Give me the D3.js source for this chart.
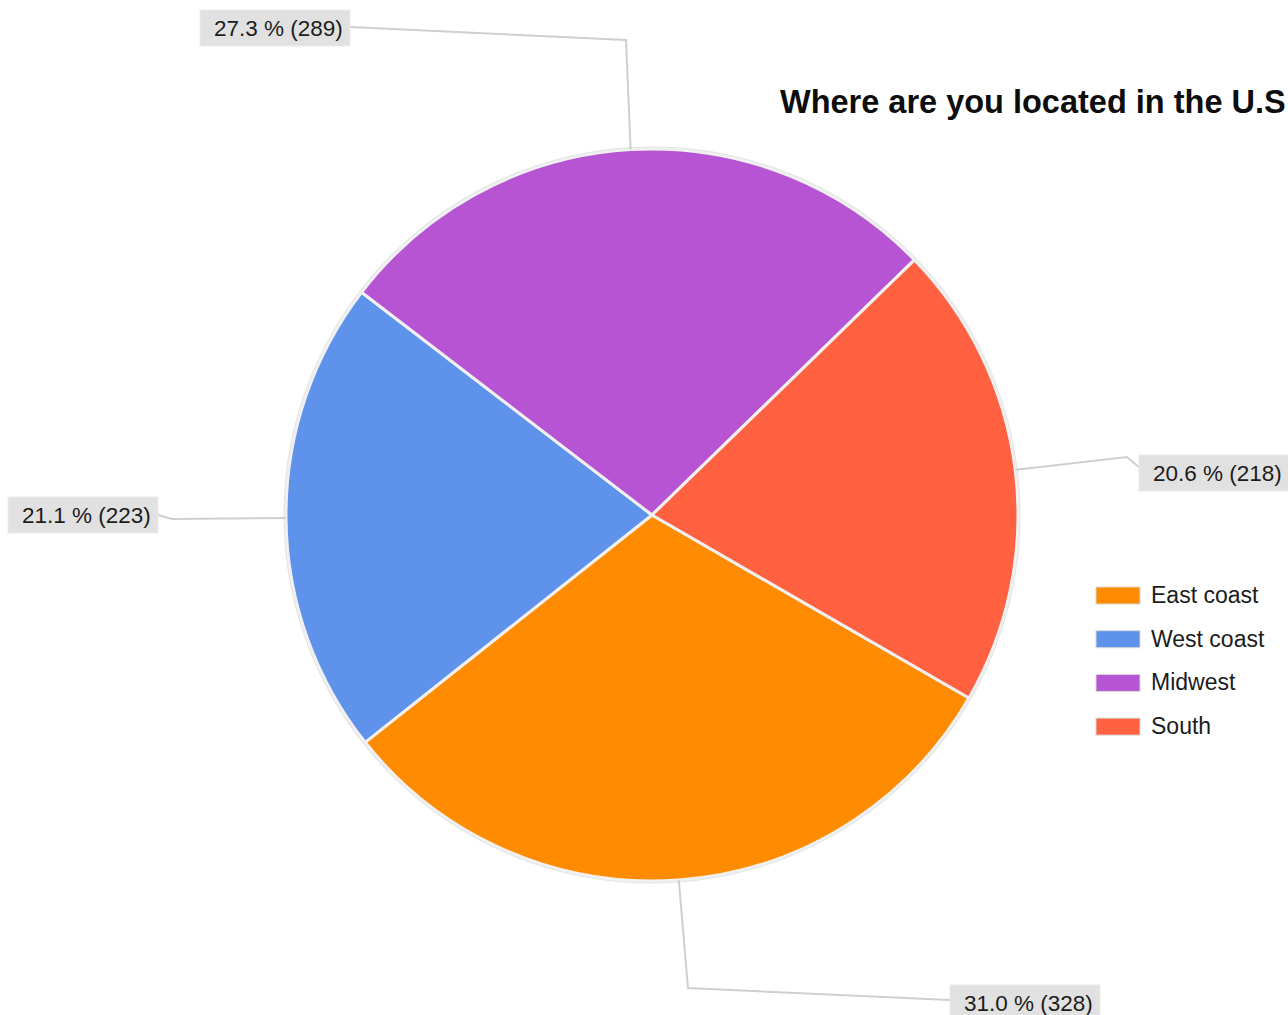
<!DOCTYPE html>
<html>
<head>
<meta charset="utf-8">
<script src="https://cdn.jsdelivr.net/npm/d3@7"></script>
<style>
  html, body { margin: 0; padding: 0; background: #ffffff; }
  svg { display: block; }
</style>
</head>
<body>
<svg id="chart" width="1288" height="1015"></svg>
<script>
// Survey: "Where are you located in the U.S"
const regions = ["East coast", "West coast", "Midwest", "South"];
const counts = [328, 223, 289, 218];
const percentLabels = ["31.0 %", "21.1 %", "27.3 %", "20.6 %"];
const regionColors = ["#ff8c00", "#5f92ea", "#b654d4", "#ff6141"];
const titleText = "Where are you located in the U.S";

const W = 1288, H = 1015;
const svg = d3.select("#chart");

const cx = 652, cy = 515, radius = 366;
const startDeg = 120; // first slice begins here, clockwise from 12 o'clock

const color = d3.scaleOrdinal().domain(regions).range(regionColors);

const pie = d3.pie()
  .value(d => d.count)
  .sort(null)
  .startAngle(startDeg * Math.PI / 180)
  .endAngle((startDeg + 360) * Math.PI / 180);

const rows = regions.map((r, i) => ({ region: r, count: counts[i], pct: percentLabels[i] }));
const arcs = pie(rows);

const arc = d3.arc().innerRadius(0).outerRadius(radius);

const g = svg.append("g").attr("transform", `translate(${cx},${cy})`);

// faint outer rim
g.append("circle")
  .attr("r", radius + 1.5)
  .attr("fill", "none")
  .attr("stroke", "#e4e4e4")
  .attr("stroke-width", 2);

g.selectAll("path.slice")
  .data(arcs)
  .enter().append("path")
  .attr("class", "slice")
  .attr("d", arc)
  .attr("fill", d => color(d.data.region))
  .attr("stroke", "#f0f0f0")
  .attr("stroke-width", 3)
  .attr("stroke-linejoin", "round");

// Callout layout per slice: elbow point, joint on the box, box (left, top) and width
const callouts = {
  "Midwest":    { elbow: [626, 40],  joint: [350, 27],  box: [200, 10],  w: 150 },
  "South":      { elbow: [1127, 457], joint: [1140, 468], box: [1139, 455], w: 150 },
  "West coast": { elbow: [172, 519], joint: [158, 515], box: [8, 497],   w: 150 },
  "East coast": { elbow: [688, 988], joint: [950, 1000], box: [950, 985], w: 150 }
};

const labelLayer = svg.append("g");

arcs.forEach(a => {
  const mid = (a.startAngle + a.endAngle) / 2;
  const ex = cx + radius * Math.sin(mid);
  const ey = cy - radius * Math.cos(mid);
  const c = callouts[a.data.region];

  labelLayer.append("path")
    .attr("d", d3.line()([[ex, ey], c.elbow, c.joint]))
    .attr("fill", "none")
    .attr("stroke", "#cfcfcf")
    .attr("stroke-width", 2);

  labelLayer.append("rect")
    .attr("x", c.box[0])
    .attr("y", c.box[1])
    .attr("width", c.w)
    .attr("height", 36)
    .attr("fill", "#e1e1e1")
    .attr("stroke", "#ececec")
    .attr("stroke-width", 1);

  labelLayer.append("text")
    .attr("x", c.box[0] + 14)
    .attr("y", c.box[1] + 26)
    .attr("font-family", "'Liberation Sans', Arial, sans-serif")
    .attr("font-size", 22.5)
    .attr("fill", "#1c1c1c")
    .text(`${a.data.pct} (${a.data.count})`);
});

// Title
svg.append("text")
  .attr("x", 780)
  .attr("y", 113)
  .attr("font-family", "'Liberation Sans', Arial, sans-serif")
  .attr("font-weight", "bold")
  .attr("font-size", 32.5)
  .attr("fill", "#0d0d0d")
  .text(titleText);

// Legend
const legend = svg.append("g").attr("transform", "translate(1096,587)");
const item = legend.selectAll("g.item")
  .data(regions)
  .enter().append("g")
  .attr("class", "item")
  .attr("transform", (d, i) => `translate(0,${i * 43.7})`);

item.append("rect")
  .attr("width", 44)
  .attr("height", 17)
  .attr("fill", d => color(d))
  .attr("stroke", "#d8d8d8")
  .attr("stroke-width", 1);

item.append("text")
  .attr("x", 55)
  .attr("y", 16)
  .attr("font-family", "'Liberation Sans', Arial, sans-serif")
  .attr("font-size", 23)
  .attr("fill", "#1c1c1c")
  .text(d => d);
</script>
</body>
</html>
